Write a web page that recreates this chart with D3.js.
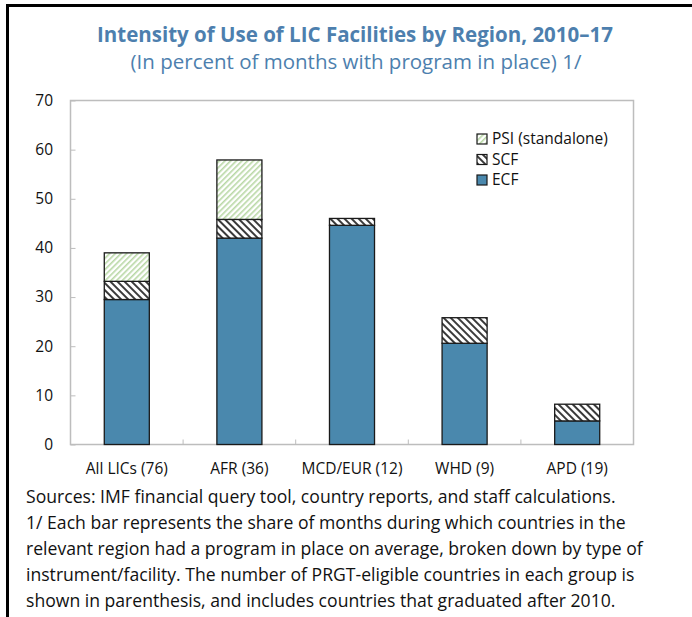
<!DOCTYPE html>
<html>
<head>
<meta charset="utf-8">
<script src="https://cdn.jsdelivr.net/npm/d3@7"></script>
<style>
	body{margin:0;background:#fff;}
	svg text{font-family:"Open Sans","Noto Sans",sans-serif;}
</style>
</head>
<body>
<script>
//chart data
var regions=["All LICs (76)","AFR (36)","MCD/EUR (12)","WHD (9)","APD (19)"];
var ecf=[29.5,42.0,44.6,20.6,4.8];
var scf=[3.7,3.8,1.4,5.2,3.4];
var psi=[5.8,12.1,0,0,0];
var seriesNames=["ECF","SCF","PSI (standalone)"];
var yTicks=[0,10,20,30,40,50,60,70];
var notes=[
	"Sources: IMF financial query tool, country reports, and staff calculations.",
	"1/ Each bar represents the share of months during which countries in the",
	"relevant region had a program in place on average, broken down by type of",
	"instrument/facility. The number of PRGT-eligible countries in each group is",
	"shown in parenthesis, and includes countries that graduated after 2010."
];

drawChart();

function drawChart(){
	var width=692,height=617;
	var svg=d3.select("body").append("svg")
		.attr("width",width)
		.attr("height",height);

	//patterns for the hatched segments
	var defs=svg.append("defs");
	var pScf=defs.append("pattern")
		.attr("id","hatchScf")
		.attr("patternUnits","userSpaceOnUse")
		.attr("width",5).attr("height",5)
		.attr("patternTransform","rotate(45)");
	pScf.append("rect").attr("width",5).attr("height",5).attr("fill","#fff");
	pScf.append("rect").attr("width",5).attr("height",2).attr("fill","#3a3a3a");

	var pPsi=defs.append("pattern")
		.attr("id","hatchPsi")
		.attr("patternUnits","userSpaceOnUse")
		.attr("width",4).attr("height",4)
		.attr("patternTransform","rotate(-45)");
	pPsi.append("rect").attr("width",4).attr("height",4).attr("fill","#fff");
	pPsi.append("rect").attr("width",4).attr("height",1.6).attr("fill","#b9d8a6");

	var fills=["#4a88ad","url(#hatchScf)","url(#hatchPsi)"];

	//outer frame: top and left only
	svg.append("line").attr("x1",6).attr("x2",width).attr("y1",5.5).attr("y2",5.5)
		.attr("stroke","#000").attr("stroke-width",3);
	svg.append("line").attr("x1",7.5).attr("x2",7.5).attr("y1",4).attr("y2",height)
		.attr("stroke","#000").attr("stroke-width",3);

	//titles
	svg.append("text")
		.attr("x",355).attr("y",42)
		.attr("text-anchor","middle")
		.attr("font-size",20.5).attr("font-weight","bold")
		.attr("fill","#4d7fae")
		.text("Intensity of Use of LIC Facilities by Region, 2010\u201317");
	svg.append("text")
		.attr("x",356).attr("y",69)
		.attr("text-anchor","middle")
		.attr("font-size",20.5)
		.attr("fill","#4d7fae")
		.text("(In percent of months with program in place) 1/");

	var plotLeft=70.5,plotRight=633.5,plotTop=100.5,plotBottom=444.5;

	var x=d3.scaleBand()
		.domain(regions)
		.range([plotLeft,plotRight])
		.paddingInner(0.6)
		.paddingOuter(0.3);

	var y=d3.scaleLinear()
		.domain([0,70])
		.range([plotBottom,plotTop]);

	//plot box
	svg.append("rect")
		.attr("x",plotLeft).attr("y",plotTop)
		.attr("width",plotRight-plotLeft).attr("height",plotBottom-plotTop)
		.attr("fill","none").attr("stroke","#bdbdbd").attr("stroke-width",1.5);

	//y axis ticks inside
	var yAxis=svg.append("g").attr("transform","translate("+plotLeft+",0)")
		.call(d3.axisRight(y).tickValues(yTicks).tickSize(5).tickFormat(""));
	yAxis.select(".domain").remove();
	yAxis.selectAll("line").attr("stroke","#bdbdbd");

	svg.selectAll(".ylab")
		.data(yTicks)
		.enter()
		.append("text")
		.attr("class","ylab")
		.attr("x",53).attr("y",function(d){return y(d);})
		.attr("dy","0.35em")
		.attr("text-anchor","end")
		.attr("font-size",15.5)
		.attr("fill","#111")
		.text(function(d){return d;});

	//x ticks between categories
	var step=x.step();
	var boundaries=regions.slice(1).map(function(d){return x(d)-x.paddingInner()*step/2;});
	svg.selectAll(".xtick")
		.data(boundaries)
		.enter()
		.append("line")
		.attr("class","xtick")
		.attr("x1",function(d){return d;}).attr("x2",function(d){return d;})
		.attr("y1",plotBottom).attr("y2",plotBottom-5)
		.attr("stroke","#bdbdbd");

	//stack the data
	var table=regions.map(function(r,i){
		return {region:r,ECF:ecf[i],SCF:scf[i],"PSI (standalone)":psi[i]};
	});
	var stacked=d3.stack().keys(seriesNames)(table);

	var layers=svg.selectAll(".layer")
		.data(stacked)
		.enter()
		.append("g")
		.attr("class","layer")
		.attr("fill",function(d,i){return fills[i];});

	layers.selectAll("rect")
		.data(function(d){return d.filter(function(s){return s[1]-s[0]>0;});})
		.enter()
		.append("rect")
		.attr("x",function(d){return x(d.data.region);})
		.attr("width",x.bandwidth())
		.attr("y",function(d){return y(d[1]);})
		.attr("height",function(d){return y(d[0])-y(d[1]);})
		.attr("stroke","#1a1a1a")
		.attr("stroke-width",1.3);

	//x labels
	svg.selectAll(".xlab")
		.data(regions)
		.enter()
		.append("text")
		.attr("class","xlab")
		.attr("x",function(d){return x(d)+x.bandwidth()/2;})
		.attr("y",474)
		.attr("text-anchor","middle")
		.attr("font-size",15.5)
		.attr("fill","#111")
		.text(function(d){return d;});

	//legend, PSI on top
	var legendOrder=seriesNames.slice().reverse();
	var legend=svg.selectAll(".legend")
		.data(legendOrder)
		.enter()
		.append("g")
		.attr("class","legend")
		.attr("transform",function(d,i){return "translate(477,"+(134+i*20.5)+")";});
	legend.append("rect")
		.attr("width",10).attr("height",10)
		.attr("fill",function(d){return fills[seriesNames.indexOf(d)];})
		.attr("stroke","#1a1a1a").attr("stroke-width",1.2);
	legend.append("text")
		.attr("x",15).attr("y",5).attr("dy","0.35em")
		.attr("font-size",15.5)
		.attr("fill","#111")
		.text(function(d){return d;});

	//footnotes
	svg.selectAll(".note")
		.data(notes)
		.enter()
		.append("text")
		.attr("class","note")
		.attr("x",26)
		.attr("y",function(d,i){return 503+i*26;})
		.attr("font-size",17.6)
		.attr("fill","#111")
		.text(function(d){return d;});
}
</script>
</body>
</html>
